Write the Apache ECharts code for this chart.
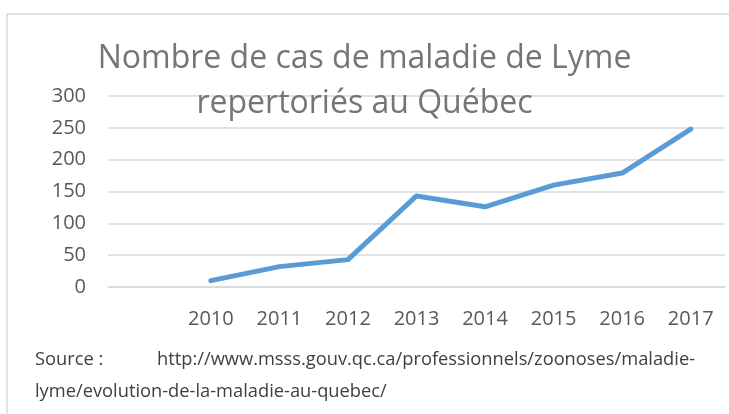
<!DOCTYPE html>
<html>
<head>
<meta charset="utf-8">
<script src="https://cdn.jsdelivr.net/npm/echarts@6/dist/echarts.min.js"></script>
<style>
  html, body { margin: 0; padding: 0; background: #fff; }
  #chart { width: 729px; height: 414px; }
</style>
</head>
<body>
<div id="chart"></div>
<script>
// first category is left empty, as in the original sheet
const years = ['', '2010', '2011', '2012', '2013', '2014', '2015', '2016', '2017'];
const cases = [null, 10, 32, 43, 143, 126, 160, 179, 248];
const yTicks = [0, 50, 100, 150, 200, 250, 300];

const titleText = 'Nombre de cas de maladie de Lyme\nrepertoriés au Québec';
const sourceLabel = 'Source :';
const sourceUrl1 = 'http://www.msss.gouv.qc.ca/professionnels/zoonoses/maladie-';
const sourceUrl2 = 'lyme/evolution-de-la-maladie-au-quebec/';

const font = "'Open Sans', 'Noto Sans', sans-serif";
const chart = echarts.init(document.getElementById('chart'));

chart.setOption({
  animation: false,
  backgroundColor: '#fff',
  title: {
    text: titleText,
    left: 'center',
    top: 36,
    padding: 0,
    textStyle: {
      color: '#757575',
      fontFamily: font,
      fontSize: 32,
      fontWeight: 'normal',
      lineHeight: 45
    }
  },
  grid: { left: 108, right: 4, top: 96, bottom: 127 },
  xAxis: {
    type: 'category',
    data: years,
    boundaryGap: true,
    axisLine: { lineStyle: { color: '#d9d9d9', width: 1.5 } },
    axisTick: { show: false },
    axisLabel: { color: '#595959', fontFamily: font, fontSize: 20, margin: 22 }
  },
  yAxis: {
    type: 'value',
    min: yTicks[0],
    max: yTicks[yTicks.length - 1],
    interval: 50,
    axisLine: { show: false },
    axisTick: { show: false },
    splitLine: { lineStyle: { color: '#d9d9d9', width: 1.5 } },
    axisLabel: { color: '#595959', fontFamily: font, fontSize: 20, margin: 22 }
  },
  series: [{
    type: 'line',
    data: cases,
    symbol: 'none',
    lineStyle: { color: '#5b9bd5', width: 5, cap: 'round', join: 'round' },
    z: 3
  }],
  graphic: [
    {
      type: 'rect',
      shape: { x: 7, y: 14, width: 740, height: 420 },
      style: { fill: 'none', stroke: '#d9d9d9', lineWidth: 1.5 },
      silent: true
    },
    {
      type: 'text', left: 35, top: 351,
      style: { text: sourceLabel, fill: '#404040', font: '18.3px ' + font }
    },
    {
      type: 'text', left: 157, top: 351,
      style: { text: sourceUrl1, fill: '#404040', font: '18.3px ' + font }
    },
    {
      type: 'text', left: 35, top: 383,
      style: { text: sourceUrl2, fill: '#404040', font: '18.3px ' + font }
    }
  ]
});
</script>
</body>
</html>
